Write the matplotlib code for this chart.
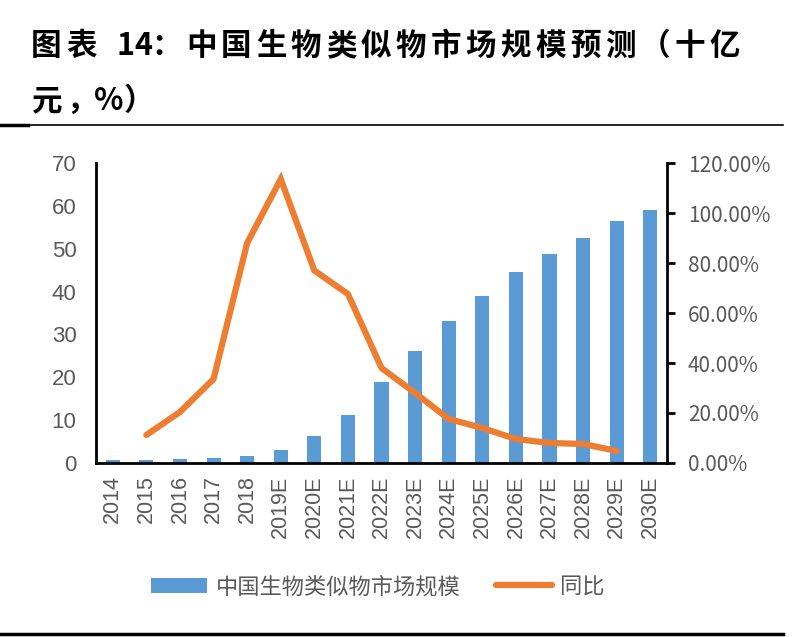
import matplotlib
matplotlib.use('Agg')
import matplotlib.pyplot as plt
from matplotlib.lines import Line2D
from matplotlib.patches import Patch
from matplotlib.ticker import FuncFormatter

plt.rcParams['font.family'] = ['Noto Sans CJK SC', 'DejaVu Sans']

years = ['2014', '2015', '2016', '2017', '2018', '2019E', '2020E', '2021E', '2022E',
         '2023E', '2024E', '2025E', '2026E', '2027E', '2028E', '2029E', '2030E']
market_size = [0.7, 0.8, 1.0, 1.2, 1.6, 3.0, 6.3, 11.3, 19.0, 26.1, 33.1, 39.0,
               44.6, 48.8, 52.5, 56.5, 59.0]
# growth rate (%), 2015 .. 2029E
growth_years = years[1:16]
growth = [11.2, 20.4, 33.6, 88.0, 113.6, 77.0, 67.6, 38.0, 28.0, 17.6, 14.0,
          9.6, 8.0, 7.6, 4.8]

title_line1 = '图表 14：中国生物类似物市场规模预测（十亿'
title_line2 = '元，%）'

bar_color = '#5B9BD5'
line_color = '#ED7D31'
tick_color = '#595959'

W, H = 796, 637
fig = plt.figure(figsize=(W / 100, H / 100), dpi=100)

# relative advance for glyphs that are not full width
advance = {' ': 0.45, '%': 0.85, '，': 0.8}


def spaced_title(text, x0, y, pitch=34.9):
    # the report title is letter-spaced, so lay it out glyph by glyph
    x = x0
    for ch in text:
        if ch != ' ':
            fig.text(x / W, 1 - y / H, ch, fontsize=22, fontweight='bold',
                     va='center', ha='left', color='black')
        if ch in advance:
            x += pitch * advance[ch]
        else:
            x += pitch * (0.5 if ch.isascii() else 1.0)


spaced_title(title_line1, 31, 46)
spaced_title(title_line2, 31, 101)
fig.add_artist(Line2D([0, 0.984], [0.804, 0.804], color='black', lw=1.2))
fig.add_artist(Line2D([0, 0.035], [0.804, 0.804], color='black', lw=2.5))
fig.add_artist(Line2D([0, 0.984], [0.005, 0.005], color='black', lw=2.5))

ax = fig.add_axes([0.1206, 0.2732, 0.7174, 0.4708])
x = list(range(len(years)))
ax.bar(x, market_size, width=0.42, color=bar_color, zorder=2)
ax.set_xlim(-0.5, len(years) - 0.5)
ax.set_ylim(0, 70)
ax.set_yticks(range(0, 71, 10))
ax.set_xticks(x)
ax.set_xticklabels(years, rotation=90, family='Liberation Sans', fontsize=15.5,
                   color=tick_color)
for lab in ax.get_yticklabels():
    lab.set_family('Liberation Sans')
    lab.set_fontsize(16)
    lab.set_color(tick_color)
ax.tick_params(axis='y', length=0, pad=14)
ax.tick_params(axis='x', length=0, pad=9)
for s in ['top', 'right']:
    ax.spines[s].set_visible(False)
ax.spines['left'].set_linewidth(2)
ax.spines['bottom'].set_linewidth(2)

ax2 = ax.twinx()
gx = [years.index(g) for g in growth_years]
ax2.plot(gx, growth, color=line_color, lw=4.5, solid_capstyle='round',
         solid_joinstyle='miter', zorder=3)
ax2.set_ylim(0, 120)
ax2.set_yticks(range(0, 121, 20))
ax2.yaxis.set_major_formatter(FuncFormatter(lambda v, p: f'{v:.2f}%'))
ax2.tick_params(axis='y', length=6, width=2, direction='out', pad=9,
                labelsize=15, labelcolor=tick_color)
for s in ['top', 'left', 'bottom']:
    ax2.spines[s].set_visible(False)
ax2.spines['right'].set_linewidth(2)

handles = [Patch(facecolor=bar_color, edgecolor='none'),
           Line2D([0], [0], color=line_color, lw=4.5, solid_capstyle='round')]
fig.legend(handles, ['中国生物类似物市场规模', '同比'], loc='center',
           bbox_to_anchor=(0.475, 0.079), ncol=2, frameon=False, fontsize=16,
           handlelength=2.5, columnspacing=1.6, handletextpad=0.4,
           labelcolor=tick_color)

fig.savefig('out.png', dpi=100)
